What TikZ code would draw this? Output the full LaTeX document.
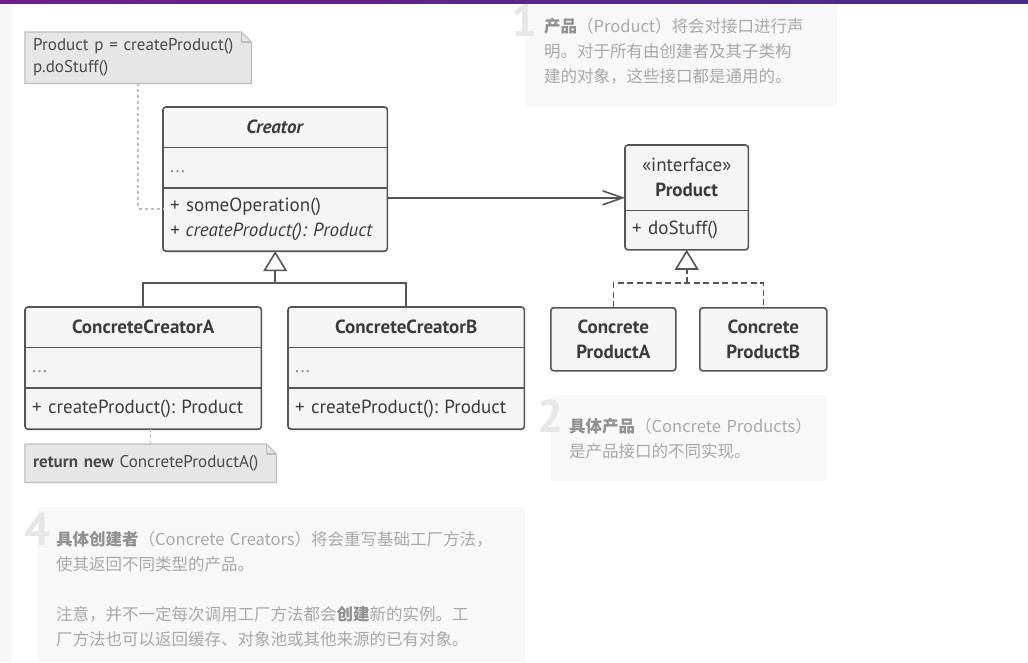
\documentclass[tikz,border=0pt]{standalone}
\usepackage{fontspec}
\setmainfont{PT Sans}
\newfontfamily\cjk{Noto Sans CJK SC}
\usetikzlibrary{arrows.meta, positioning, calc, backgrounds}
\frenchspacing

\definecolor{barleft}{HTML}{6B1F8A}
\definecolor{barright}{HTML}{4A2A8B}
\definecolor{sidestrip}{HTML}{F7F7F7}
\definecolor{umlline}{HTML}{555555}
\definecolor{umltext}{HTML}{3C3C3C}
\definecolor{boxfill}{HTML}{F5F5F5}
\definecolor{notefill}{HTML}{E6E6E6}
\definecolor{noteline}{HTML}{BDBDBD}
\definecolor{notetext}{HTML}{4A4A4A}
\definecolor{tipfill}{HTML}{F8F8F8}
\definecolor{tiptext}{HTML}{A8A8A8}
\definecolor{tipbold}{HTML}{909090}
\definecolor{tipnum}{HTML}{E6E6E6}

\tikzset{
    classname/.style={text width=#1, align=center, minimum height=40pt,
        inner xsep=7pt, inner ysep=0pt, text=umltext,
        font=\fontsize{19}{25}\selectfont\bfseries},
    classpart/.style={text width=#1, align=left, minimum height=40pt,
        inner xsep=7pt, inner ysep=0pt, text=umltext,
        font=\fontsize{19}{25}\selectfont},
    classframe/.style={draw=umlline, line width=1.6pt, rounded corners=3pt, fill=boxfill},
    classsep/.style={draw=umlline, line width=1.6pt},
    umlconn/.style={draw=umlline, line width=1.6pt},
    realize/.style={umlconn, dash pattern=on 6pt off 3.5pt},
    hollow/.style={-{Triangle[open, length=20pt, width=24pt]}},
    assoc/.style={umlconn, -{Straight Barb[length=20pt, width=14pt]}},
    notebox/.style={fill=notefill, draw=noteline, line width=1.2pt},
    notetxt/.style={text width=#1, align=left, inner xsep=8pt, inner ysep=0pt,
        text=notetext, font=\fontsize{17}{22}\selectfont},
    noteconn/.style={draw=noteline, line width=1.5pt, dash pattern=on 3pt off 3pt},
    tipbox/.style={fill=tipfill, inner sep=0pt},
    tipnum/.style={text=tipnum, inner sep=0pt, font=\fontsize{46}{46}\selectfont\bfseries},
    tiptext/.style={text width=#1, align=left, inner sep=0pt, text=tiptext,
        font=\cjk\fontsize{16.5}{25}\selectfont},
}
\newcommand{\tipstrong}[1]{\textcolor{tipbold}{\textbf{#1}}}

\begin{document}
\begin{tikzpicture}[x=1pt, y=-1pt]
    \useasboundingbox (0,0) rectangle (1028,662);
    \begin{scope}[on background layer]
        \fill[white] (0,0) rectangle (1028,662);
        \fill[sidestrip] (0,0) rectangle (12,662);
    \end{scope}

    % explanation boxes
    \node[tipbox, minimum width=311pt, minimum height=103pt, anchor=north west] (tipA) at (526,3) {};
    \node[tipnum, anchor=base west] (numA) at (511,36) {1};
    \node[tiptext=280pt, anchor=base west] (textA) at (544,32)
        {\tipstrong{产品}（Product）将会对接口进行声\\明。对于所有由创建者及其子类构\\建的对象，这些接口都是通用的。};

    \node[tipbox, minimum width=275pt, minimum height=86pt, anchor=north west] (tipB) at (551,395) {};
    \node[tipnum, anchor=base west] (numB) at (537,432) {2};
    \node[tiptext=250pt, anchor=base west] (textB) at (569,432)
        {\tipstrong{具体产品}（Concrete Products）\\是产品接口的不同实现。};

    \node[tipbox, minimum width=487pt, minimum height=155pt, anchor=north west] (tipD) at (38,507) {};
    \node[tipnum, anchor=base west] (numD) at (24,545) {4};
    \node[tiptext=470pt, anchor=base west] (textD) at (56,545)
        {\tipstrong{具体创建者}（Concrete Creators）将会重写基础工厂方法，\\使其返回不同类型的产品。\\[25pt]注意，并不一定每次调用工厂方法都会\tipstrong{创建}新的实例。工\\厂方法也可以返回缓存、对象池或其他来源的已有对象。};

    % classes
    \node[classname=210pt, anchor=north west] (creator) at (163,107) {\textit{Creator}};
    \node[classpart=210pt, below=0pt of creator] (creatorattr) {\strut\textcolor{umltext!60}{...}};
    \node[classpart=210pt, minimum height=63pt, below=0pt of creatorattr] (creatorops)
        {+ someOperation()\\\textit{+ createProduct(): Product}};

    \node[classname=109pt, minimum height=65pt, anchor=north west] (product) at (625,145)
        {\textmd{«interface»}\\Product};
    \node[classpart=109pt, minimum height=39pt, below=0pt of product] (productops) {+ doStuff()};

    \node[classname=222pt, anchor=north west] (ccA) at (25,307) {ConcreteCreatorA};
    \node[classpart=222pt, below=0pt of ccA] (ccAattr) {\strut\textcolor{umltext!60}{...}};
    \node[classpart=222pt, minimum height=41pt, below=0pt of ccAattr] (ccAops) {+ createProduct(): Product};

    \node[classname=222pt, anchor=north west] (ccB) at (288,307) {ConcreteCreatorB};
    \node[classpart=222pt, below=0pt of ccB] (ccBattr) {\strut\textcolor{umltext!60}{...}};
    \node[classpart=222pt, minimum height=41pt, below=0pt of ccBattr] (ccBops) {+ createProduct(): Product};

    \node[classframe, classname=111pt, minimum height=63pt, anchor=north west] (cpA) at (550,307) {Concrete\\ProductA};
    \node[classframe, classname=113pt, minimum height=63pt, anchor=north west] (cpB) at (699,307) {Concrete\\ProductB};

    \begin{scope}[on background layer]
        \draw[classframe] (creator.north west) rectangle (creatorops.south east);
        \draw[classframe] (product.north west) rectangle (productops.south east);
        \draw[classframe] (ccA.north west) rectangle (ccAops.south east);
        \draw[classframe] (ccB.north west) rectangle (ccBops.south east);
    \end{scope}
    \foreach \part in {creatorattr, creatorops, productops, ccAattr, ccAops, ccBattr, ccBops}
        \draw[classsep] (\part.north west) -- (\part.north east);

    % notes
    \node[notetxt=210pt, minimum height=51pt, anchor=north west] (noteA) at (25,32)
        {Product p = createProduct()\\p.doStuff()};
    \node[notetxt=235pt, minimum height=38pt, anchor=north west] (noteB) at (25,444)
        {\textbf{return new} ConcreteProductA()};
    \begin{scope}[on background layer]
        \foreach \note in {noteA, noteB} {
            \filldraw[notebox] (\note.north west) -- ([xshift=-10pt]\note.north east)
                -- ([yshift=-10pt]\note.north east) -- (\note.south east)
                -- (\note.south west) -- cycle;
            \draw[notebox, fill=none] ([xshift=-10pt]\note.north east)
                -- ([xshift=-10pt, yshift=-10pt]\note.north east) -- ([yshift=-10pt]\note.north east);
        }
    \end{scope}

    % connectors
    \coordinate (noteAend) at ([yshift=-21pt]creatorops.north west);
    \draw[noteconn] (noteA.south) |- (noteAend);
    \draw[noteconn] (noteB.north) -- (noteB.north |- ccAops.south);

    \coordinate (assocfrom) at ([yshift=-10pt]creatorops.north east);
    \draw[assoc] (assocfrom) -- (assocfrom -| product.west);

    \coordinate (cjoin) at ($(creatorops.south |- ccA.north)+(0,-24)$);
    \draw[umlconn] (ccA.north) |- (cjoin) -| (ccB.north);
    \draw[umlconn, hollow] (cjoin) -- (creatorops.south);

    \coordinate (pjoin) at ($(productops.south |- cpA.north)+(0,-24)$);
    \draw[realize] (cpA.north) |- (pjoin) -| (cpB.north);
    \draw[realize, hollow] (pjoin) -- (productops.south);

    \shade[left color=barleft, right color=barright] (0,0) rectangle (1028,3);
\end{tikzpicture}
\end{document}
